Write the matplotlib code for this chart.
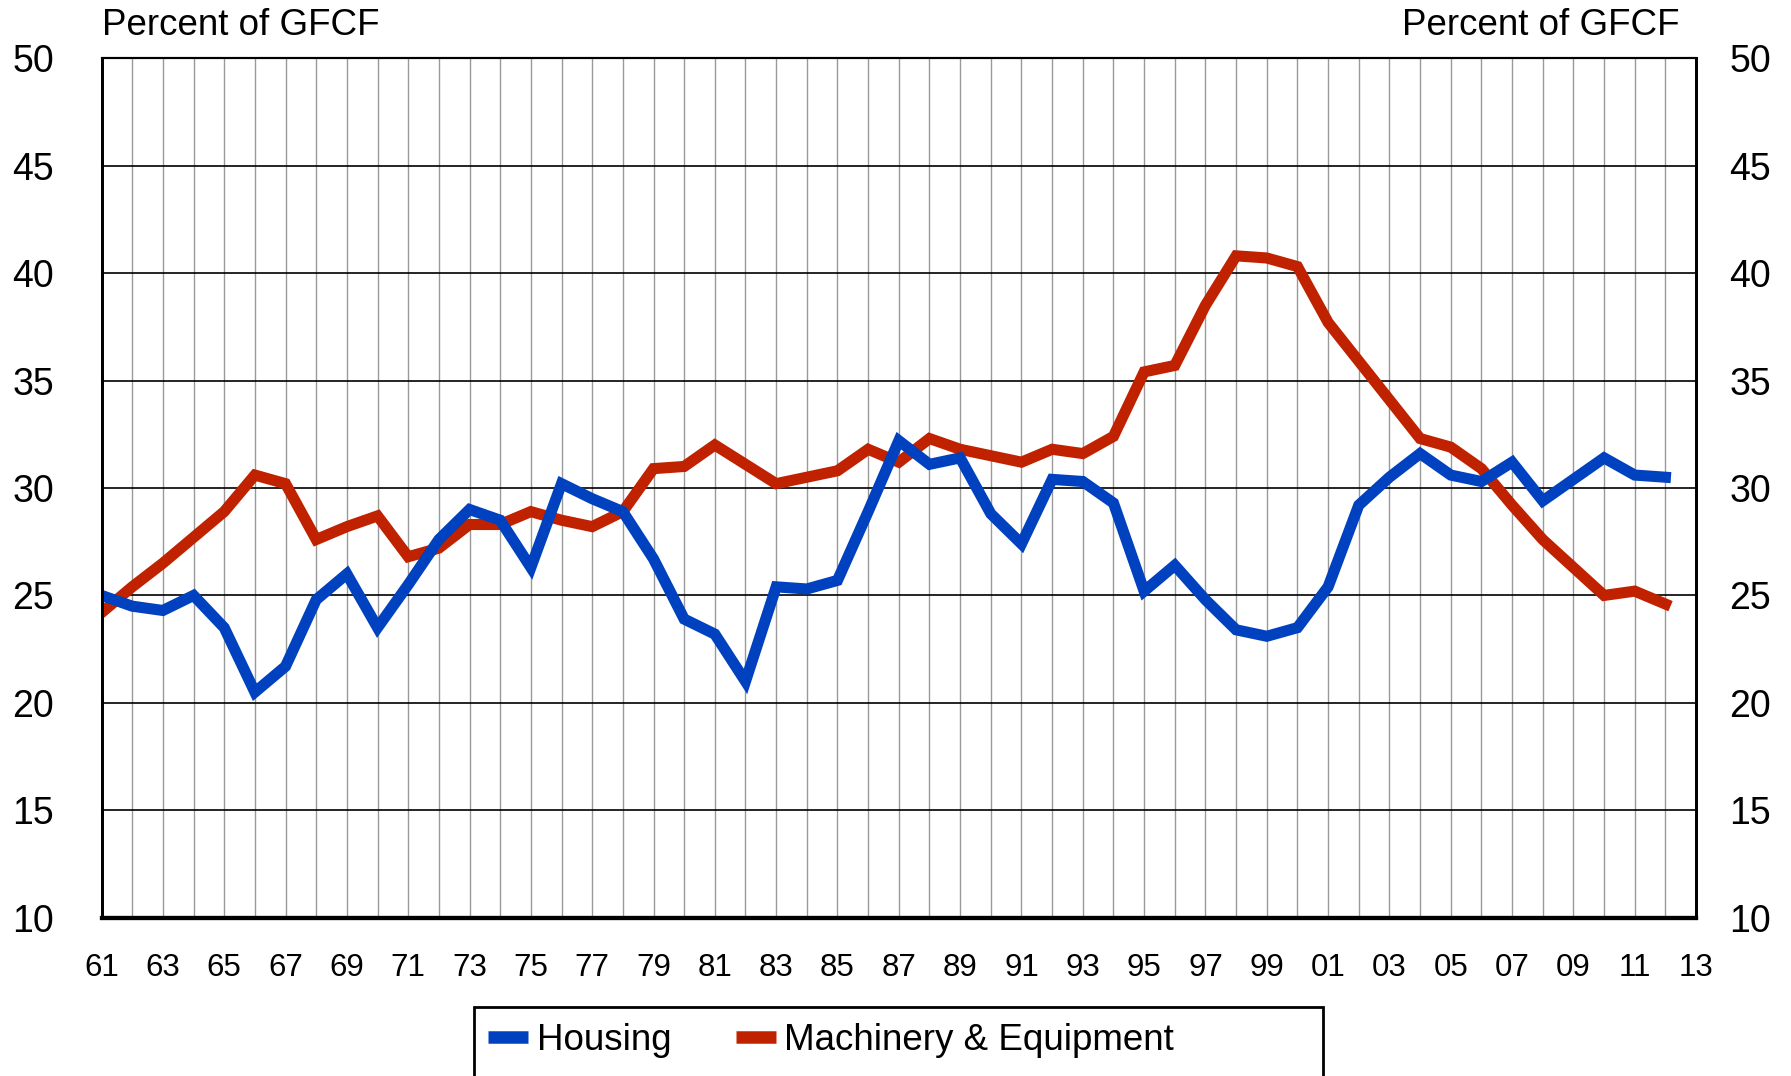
import matplotlib.pyplot as plt
from matplotlib.patches import Rectangle
from matplotlib.lines import Line2D

plt.rcParams['font.family'] = ['Liberation Sans', 'DejaVu Sans']

years = list(range(1961, 2013))

housing = [25.0, 24.5, 24.3, 25.0, 23.5, 20.5, 21.7, 24.8, 26.0, 23.5,
           25.5, 27.6, 29.0, 28.5, 26.3, 30.2, 29.5, 28.9, 26.7, 23.9,
           23.2, 21.0, 25.4, 25.3, 25.7, 28.9, 32.2, 31.1, 31.4, 28.8,
           27.4, 30.4, 30.3, 29.3, 25.2, 26.4, 24.8, 23.4, 23.1, 23.5,
           25.4, 29.2, 30.5, 31.6, 30.6, 30.3, 31.2, 29.4, 30.4, 31.4,
           30.6, 30.5]

machinery = [24.2, 25.4, 26.5, 27.7, 28.9, 30.6, 30.2, 27.6, 28.2, 28.7,
             26.8, 27.2, 28.3, 28.3, 28.9, 28.5, 28.2, 28.9, 30.9, 31.0,
             32.0, 31.1, 30.2, 30.5, 30.8, 31.8, 31.2, 32.3, 31.8, 31.5,
             31.2, 31.8, 31.6, 32.4, 35.4, 35.7, 38.5, 40.8, 40.7, 40.3,
             37.7, 35.9, 34.1, 32.3, 31.9, 30.9, 29.2, 27.6, 26.3, 25.0,
             25.2, 24.6]

tick_years = list(range(1961, 2014, 2))
tick_labels = ['%02d' % (y % 100) for y in tick_years]
y_ticks = [10, 15, 20, 25, 30, 35, 40, 45, 50]

blue = '#0041C0'
red = '#C02200'

fig = plt.figure(figsize=(17.91, 10.76), dpi=100)
ax = fig.add_axes([0.0567, 0.147, 0.8903, 0.799])

# vertical grid every year, horizontal every 5
for yr in range(1962, 2013):
    ax.axvline(yr, color='#999999', linewidth=1.0, zorder=1)
for v in y_ticks[1:-1]:
    ax.axhline(v, color='black', linewidth=1.2, zorder=1)

ax.plot(years, housing, color=blue, linewidth=8, solid_joinstyle='miter', zorder=3)
ax.plot(years, machinery, color=red, linewidth=8, solid_joinstyle='miter', zorder=2)

ax.set_xlim(1961, 2013)
ax.set_ylim(10, 50)
ax.set_xticks(tick_years)
ax.set_xticklabels(tick_labels, fontsize=22.5)
ax.set_yticks(y_ticks)
ax.tick_params(axis='y', labelsize=27, length=0, pad=34)
ax.tick_params(axis='x', length=0, pad=25)

# right-hand copy of the scale
ax2 = ax.twinx()
ax2.set_ylim(10, 50)
ax2.set_yticks(y_ticks)
ax2.tick_params(axis='y', labelsize=27, length=0, pad=24)
for a in (ax, ax2):
    a.spines['left'].set_linewidth(2)
    a.spines['right'].set_linewidth(2)
    a.spines['bottom'].set_linewidth(3)
    a.spines['top'].set_linewidth(1.5)

fig.text(0.0567, 0.976, 'Percent of GFCF', fontsize=26.5, ha='left', va='center')
fig.text(0.9375, 0.976, 'Percent of GFCF', fontsize=26.5, ha='right', va='center')

# legend box running off the bottom of the figure
fig.patches.append(Rectangle((474 / 1791, -0.02), (1323 - 474) / 1791, 0.02 + 69 / 1076,
                             transform=fig.transFigure, fill=False,
                             edgecolor='black', linewidth=2))
handles = [Line2D([], [], color=blue, linewidth=9, solid_capstyle='butt'),
           Line2D([], [], color=red, linewidth=9, solid_capstyle='butt')]
fig.legend(handles, ['Housing', 'Machinery & Equipment'], ncol=2, frameon=False,
           loc='center left', bbox_to_anchor=(488 / 1791, 1 - 1040 / 1076),
           fontsize=26.5, handlelength=1.1, handletextpad=0.22, columnspacing=1.75,
           borderaxespad=0, borderpad=0)

fig.savefig('out.png', dpi=100)
